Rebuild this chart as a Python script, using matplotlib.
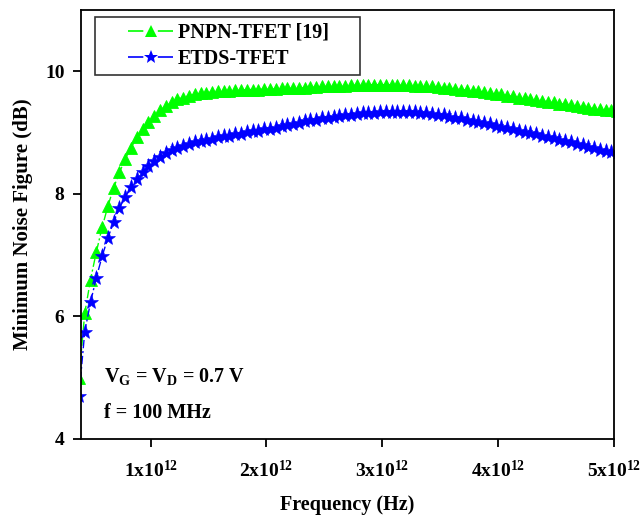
import numpy as np
import matplotlib
matplotlib.use('Agg')
import matplotlib.pyplot as plt
from matplotlib.lines import Line2D
from matplotlib.legend_handler import HandlerLine2D

plt.rcParams['font.family'] = ['Liberation Serif', 'DejaVu Serif']
plt.rcParams['font.weight'] = 'bold'
plt.rcParams['mathtext.fontset'] = 'custom'
plt.rcParams['mathtext.rm'] = 'Liberation Serif:bold'
plt.rcParams['mathtext.it'] = 'Liberation Serif:bold'
plt.rcParams['mathtext.bf'] = 'Liberation Serif:bold'

# frequency sweep, 0.05 THz step (units of 1e12 Hz)
freq = np.arange(0.38, 5.04, 0.05)

pnpn = [5.00, 6.05, 6.60, 7.05, 7.45, 7.80, 8.10, 8.35, 8.57, 8.75,
        8.92, 9.05, 9.17, 9.27, 9.36, 9.43, 9.49, 9.54, 9.57, 9.60,
        9.62, 9.64, 9.65, 9.66, 9.67, 9.68, 9.68, 9.69, 9.69, 9.70,
        9.70, 9.70, 9.71, 9.71, 9.71, 9.72, 9.72, 9.72, 9.73, 9.73,
        9.74, 9.74, 9.75, 9.75, 9.76, 9.76, 9.76, 9.77, 9.77, 9.77,
        9.78, 9.78, 9.78, 9.78, 9.78, 9.77, 9.77, 9.77, 9.76, 9.76,
        9.75, 9.75, 9.74, 9.73, 9.72, 9.71, 9.70, 9.69, 9.68, 9.67,
        9.66, 9.64, 9.63, 9.62, 9.60, 9.59, 9.57, 9.56, 9.54, 9.53,
        9.52, 9.50, 9.49, 9.47, 9.46, 9.44, 9.43, 9.42, 9.40, 9.39,
        9.38, 9.37, 9.36, 9.35]

etds = [4.70, 5.75, 6.23, 6.63, 6.98, 7.28, 7.54, 7.77, 7.95, 8.11,
        8.24, 8.35, 8.45, 8.53, 8.60, 8.66, 8.71, 8.75, 8.78, 8.81,
        8.84, 8.86, 8.88, 8.90, 8.92, 8.94, 8.95, 8.97, 8.98, 9.00,
        9.02, 9.03, 9.05, 9.06, 9.08, 9.10, 9.12, 9.14, 9.16, 9.18,
        9.20, 9.21, 9.23, 9.24, 9.25, 9.27, 9.28, 9.29, 9.30, 9.31,
        9.32, 9.32, 9.33, 9.33, 9.34, 9.34, 9.34, 9.33, 9.33, 9.32,
        9.31, 9.30, 9.29, 9.28, 9.26, 9.24, 9.23, 9.21, 9.19, 9.17,
        9.15, 9.13, 9.11, 9.09, 9.07, 9.05, 9.03, 9.01, 8.99, 8.97,
        8.95, 8.93, 8.91, 8.88, 8.86, 8.84, 8.81, 8.79, 8.77, 8.74,
        8.72, 8.70, 8.68, 8.66]

labels = ['PNPN-TFET [19]', 'ETDS-TFET']
colors = ['#00ff00', '#0000ff']
xticks = [1, 2, 3, 4, 5]
xticklabels = ['1x10$^{12}$', '2x10$^{12}$', '3x10$^{12}$', '4x10$^{12}$', '5x10$^{12}$']
yticks = [4, 6, 8, 10]

fig = plt.figure(figsize=(6.4, 5.2), dpi=100)
ax = fig.add_axes([0.127, 0.156, 0.832, 0.825])

dashdot = (0, (6, 2, 1.5, 2))
ax.plot(freq[:len(pnpn)] * 1e12, pnpn, color=colors[0], linestyle=dashdot, linewidth=1,
        marker='^', markersize=8.5, markeredgewidth=0.6, markeredgecolor=colors[0])
ax.plot(freq[:len(etds)] * 1e12, etds, color=colors[1], linestyle=dashdot, linewidth=1,
        marker='*', markersize=11, markeredgewidth=0.4, markeredgecolor=colors[1])

ax.set_xlim(0.4e12, 5e12)
ax.set_ylim(4, 11)
ax.set_xticks([t * 1e12 for t in xticks], xticklabels)
ax.set_yticks(yticks)
ax.tick_params(direction='out', length=6, width=1.3, labelsize=14, pad=6)
ax.tick_params(axis='x', pad=9)
for s in ax.spines.values():
    s.set_linewidth(1.3)

ax.set_xlabel('Frequency (Hz)', fontsize=14.5, fontweight='bold', labelpad=10)
ax.set_ylabel('Minimum Noise Figure (dB)', fontsize=15, fontweight='bold', labelpad=9)

# legend handles: dash - marker - dash, indented inside a wide box
handles = [Line2D([], [], color=colors[0], linestyle=(0, (9.2, 8.7)), linewidth=1.2,
                  marker='^', markersize=9, markeredgewidth=0),
           Line2D([], [], color=colors[1], linestyle=(0, (9.2, 8.7)), linewidth=1.2,
                  marker='*', markersize=10, markeredgewidth=0)]
hmap = {h: HandlerLine2D(xpad=1.34) for h in handles}
leg = ax.legend(handles, labels, loc='upper left', bbox_to_anchor=(0.026, 0.784, 0.497, 0.2),
                mode='expand', fontsize=14.5, frameon=True, fancybox=False, edgecolor='black',
                handlelength=3.57, borderpad=0.3, labelspacing=0.33, handletextpad=0.25,
                borderaxespad=0, handler_map=hmap)
leg.get_frame().set_linewidth(1.2)
for t in leg.get_texts():
    t.set_fontweight('bold')

ax.text(0.042, 0.133, r'V$_\mathregular{G}$ = V$_\mathregular{D}$ = 0.7 V', transform=ax.transAxes,
        fontsize=14.5, fontweight='bold')
ax.text(0.042, 0.049, 'f = 100 MHz', transform=ax.transAxes, fontsize=14.5, fontweight='bold')

fig.savefig('out.png', dpi=100)
